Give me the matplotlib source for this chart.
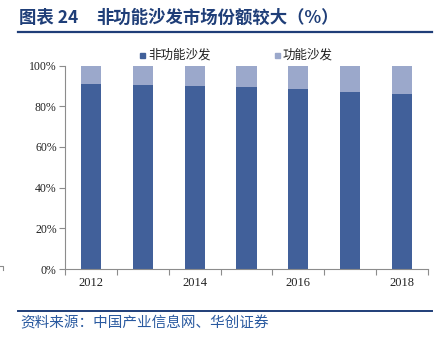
import matplotlib
matplotlib.use("Agg")
import matplotlib.pyplot as plt
from matplotlib.lines import Line2D
from matplotlib.patches import Rectangle
import numpy as np

years = ["2012", "2013", "2014", "2015", "2016", "2017", "2018"]
non_func = [90.9, 90.6, 90.1, 89.6, 88.5, 87.2, 86.0]
func = [100 - v for v in non_func]
yticks = [0, 20, 40, 60, 80, 100]
series_names = ["非功能沙发", "功能沙发"]

dark = "#41609A"
light = "#9BA8CB"
blue = "#1F3E78"

plt.rcParams['font.family'] = ['Noto Sans CJK SC', 'DejaVu Sans']

W, H = 436, 345
fig = plt.figure(figsize=(W / 100, H / 100), dpi=100)

def fx(px):
    return px / W

def fy(py):
    return 1 - py / H

ax = fig.add_axes([fx(65), fy(269), fx(428) - fx(65), fy(65.5) - fy(269)])
x = np.arange(len(years))
ax.bar(x, non_func, width=0.39, color=dark, zorder=2)
ax.bar(x, func, width=0.39, bottom=non_func, color=light, zorder=2)
ax.set_xlim(-0.5, len(years) - 0.5)
ax.set_ylim(0, 100)

for s in ["top", "right"]:
    ax.spines[s].set_visible(False)
for s in ["left", "bottom"]:
    ax.spines[s].set_color("#8C8C8C")
    ax.spines[s].set_linewidth(0.8)

ax.set_yticks(yticks)
ax.set_yticklabels([f"{v}%" for v in yticks], family="Liberation Serif", fontsize=8.5, color="#222222")
ax.tick_params(axis="y", length=4, color="#8C8C8C", width=0.8, pad=2)

ax.set_xticks(x[::2])
ax.set_xticklabels(years[::2], family="Liberation Serif", fontsize=9, color="#222222")
ax.tick_params(axis="x", length=0, pad=6)
ax.set_xticks(np.arange(-0.5, len(years), 1.0), minor=True)
ax.tick_params(axis="x", which="minor", length=4, color="#8C8C8C", width=0.8)

# Title
fig.text(fx(19), fy(18), "图表 24", fontsize=12.5, fontweight="bold", color=blue, va="center", ha="left")
fig.text(fx(96), fy(18), "非功能沙发市场份额较大（%）", fontsize=12.5, fontweight="bold", color=blue, va="center", ha="left")
fig.add_artist(Line2D([fx(18), fx(432)], [fy(32), fy(32)], color=blue, linewidth=1.6, transform=fig.transFigure))

# Legend
fig.add_artist(Rectangle((fx(140), fy(58)), fx(5), fy(0) - fy(5), color=dark, transform=fig.transFigure))
fig.text(fx(148), fy(55.5), series_names[0], fontsize=9, color="#222222", va="center", ha="left")
fig.add_artist(Rectangle((fx(275), fy(58)), fx(5), fy(0) - fy(5), color=light, transform=fig.transFigure))
fig.text(fx(283), fy(55.5), series_names[1], fontsize=9, color="#222222", va="center", ha="left")

# Source
fig.add_artist(Line2D([fx(18), fx(432)], [fy(311), fy(311)], color=blue, linewidth=1.4, transform=fig.transFigure))
fig.text(fx(20), fy(323), "资料来源：中国产业信息网、华创证券", fontsize=10.5, color="#2A5AA0",
         style="italic", va="center", ha="left")

# small artifact at left
fig.add_artist(Line2D([fx(0), fx(3), fx(3)], [fy(266), fy(266), fy(270)], color="#8C8C8C", linewidth=0.8,
                      transform=fig.transFigure))

fig.savefig("out.png", dpi=100)
